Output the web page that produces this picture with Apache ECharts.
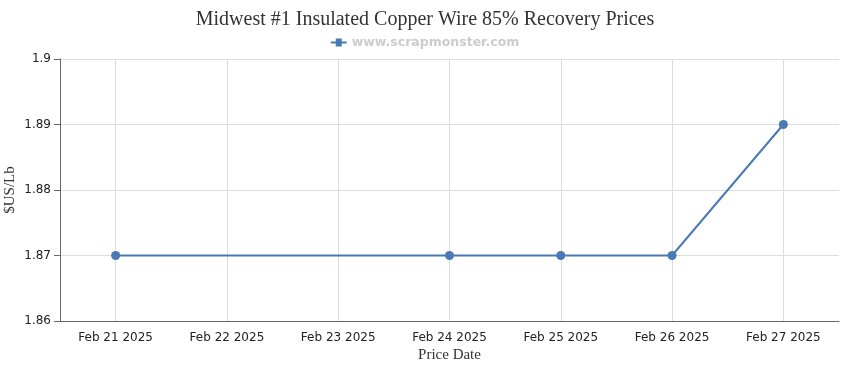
<!DOCTYPE html>
<html><head><meta charset="utf-8">
<script src="https://cdn.jsdelivr.net/npm/echarts@6/dist/echarts.min.js"></script>
<style>html,body{margin:0;padding:0;background:#fff}#c{width:850px;height:370px}</style>
</head><body><div id="c"></div>
<script>
const categories = ['Feb 21 2025','Feb 22 2025','Feb 23 2025','Feb 24 2025','Feb 25 2025','Feb 26 2025','Feb 27 2025'];
const prices = [1.87, null, null, 1.87, 1.87, 1.87, 1.89];
const seriesName = 'www.scrapmonster.com';
const titleText = 'Midwest #1 Insulated Copper Wire 85% Recovery Prices';

const chart = echarts.init(document.getElementById('c'));
chart.setOption({
  animation: false,
  title: {text: titleText, left: 'center', top: 5,
    textStyle: {fontFamily: 'Liberation Serif, serif', fontSize: 20, fontWeight: 'normal', color: '#333'}},
  legend: {top: 31, left: 'center', itemWidth: 16, itemHeight: 8, itemGap: 5,
    data: [{name: seriesName, icon: 'path://M0,4 L5,4 L5,1 L11,1 L11,4 L16,4 L16,6 L11,6 L11,9 L5,9 L5,6 L0,6 Z'}],
    textStyle: {color: '#cccccc', fontWeight: 'bold', fontSize: 12.5, fontFamily: 'DejaVu Sans, sans-serif'}},
  grid: {left: 60, right: 11, top: 59, bottom: 49, containLabel: false, outerBoundsMode: 'none'},
  xAxis: {type: 'category', data: categories, boundaryGap: true,
    name: 'Price Date', nameLocation: 'middle', nameGap: 27, nameMoveOverlap: false,
    nameTextStyle: {fontFamily: 'Liberation Serif, serif', fontSize: 15, color: '#333'},
    axisLine: {lineStyle: {color: '#666'}},
    axisTick: {alignWithLabel: true, length: 6, lineStyle: {color: '#666'}},
    axisLabel: {color: '#222', fontSize: 12, fontFamily: 'DejaVu Sans, sans-serif', margin: 11},
    splitLine: {show: true, alignWithLabel: true, lineStyle: {color: '#dcdcdc'}}},
  yAxis: {type: 'value', min: 1.86, max: 1.9, interval: 0.01,
    name: '$US/Lb', nameLocation: 'middle', nameGap: 42, nameRotate: 90, nameMoveOverlap: false,
    nameTextStyle: {fontFamily: 'Liberation Serif, serif', fontSize: 15, color: '#333'},
    axisLine: {show: true, lineStyle: {color: '#666'}},
    axisTick: {show: true, length: 6, lineStyle: {color: '#666'}},
    axisLabel: {color: '#222', fontSize: 12, fontFamily: 'DejaVu Sans, sans-serif', margin: 9,
      formatter: v => String(parseFloat(v.toFixed(2)))},
    splitLine: {lineStyle: {color: '#dcdcdc'}}},
  series: [{name: seriesName, type: 'line', data: prices, connectNulls: true,
    symbol: 'circle', symbolSize: 9, color: '#4a7ab5',
    lineStyle: {width: 2, color: '#4a7ab5'}, itemStyle: {color: '#4a7ab5'}}]
});
</script></body></html>
